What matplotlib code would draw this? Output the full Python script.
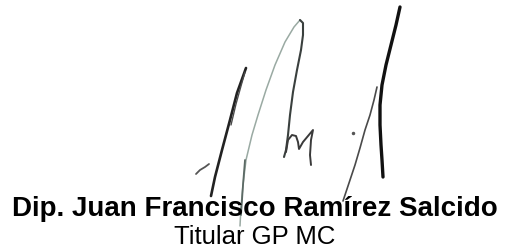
import matplotlib
matplotlib.use("Agg")
import matplotlib.pyplot as plt

# Text content
name_text = "Dip. Juan Francisco Ramírez Salcido"
title_text = "Titular GP MC"

# Signature strokes (pixel coordinates)
stroke_left_x = [211, 215, 222, 230, 237, 246]
stroke_left_y = [196, 177, 150, 120, 93, 68]
stroke_left_back_x = [231, 236, 241, 245]
stroke_left_back_y = [125, 104, 86, 72]
hook_x = [196, 200, 205, 209]
hook_y = [174, 170, 167, 164]
arch_up_x = [240, 241, 243, 246, 252, 258, 266, 275, 285, 294, 300]
arch_up_y = [226, 207, 185, 160, 135, 115, 90, 65, 42, 27, 20]
arch_down_x = [300, 303, 303, 301, 297, 293, 290, 288, 286, 284]
arch_down_y = [20, 23, 35, 50, 70, 92, 115, 135, 150, 157]
arch_low_x = [241, 243, 245]
arch_low_y = [215, 185, 160]
hump_x = [286, 288, 292, 296, 298, 299, 303, 308, 313, 311, 310, 311]
hump_y = [152, 140, 135, 136, 142, 149, 142, 136, 130, 140, 155, 165]
right_x = [400, 396, 391, 386, 382, 380, 380, 381, 382, 383]
right_y = [7, 25, 45, 65, 85, 105, 125, 145, 160, 177]
branch_x = [377, 374, 370, 365, 360, 355, 350, 346, 343]
branch_y = [87, 100, 115, 130, 148, 165, 180, 192, 201]
dot_x = [353]
dot_y = [133]

fig = plt.figure(figsize=(5.05, 2.5), dpi=100)
ax = fig.add_axes([0, 0, 1, 1])
ax.set_xlim(0, 505)
ax.set_ylim(250, 0)
ax.axis("off")

ax.plot(stroke_left_x, stroke_left_y, color="#222222", lw=1.9, solid_capstyle="round")
ax.plot(stroke_left_back_x, stroke_left_back_y, color="#4a4a4a", lw=1.0, solid_capstyle="round")
ax.plot(hook_x, hook_y, color="#555555", lw=1.3, solid_capstyle="round")
ax.plot(arch_up_x, arch_up_y, color="#9aaaa3", lw=1.1, solid_capstyle="round", solid_joinstyle="round")
ax.plot(arch_low_x, arch_low_y, color="#5c6a65", lw=1.3, solid_capstyle="round")
ax.plot(arch_down_x, arch_down_y, color="#3a403e", lw=1.5, solid_capstyle="round", solid_joinstyle="round")
ax.plot(hump_x, hump_y, color="#3a3a3a", lw=1.4, solid_capstyle="round", solid_joinstyle="round")
ax.plot(right_x, right_y, color="#111111", lw=2.4, solid_capstyle="round", solid_joinstyle="round")
ax.plot(branch_x, branch_y, color="#4a4a4a", lw=1.2, solid_capstyle="round")
ax.plot(dot_x, dot_y, "o", color="#555555", ms=1.5)

ax.text(255, 216, name_text, ha="center", va="baseline", fontsize=20,
        fontweight="bold", family="Liberation Sans", color="black")
ax.text(255, 244, title_text, ha="center", va="baseline", fontsize=18.5,
        family="Liberation Sans", color="black")

fig.savefig("out.png", dpi=100, facecolor="white")
